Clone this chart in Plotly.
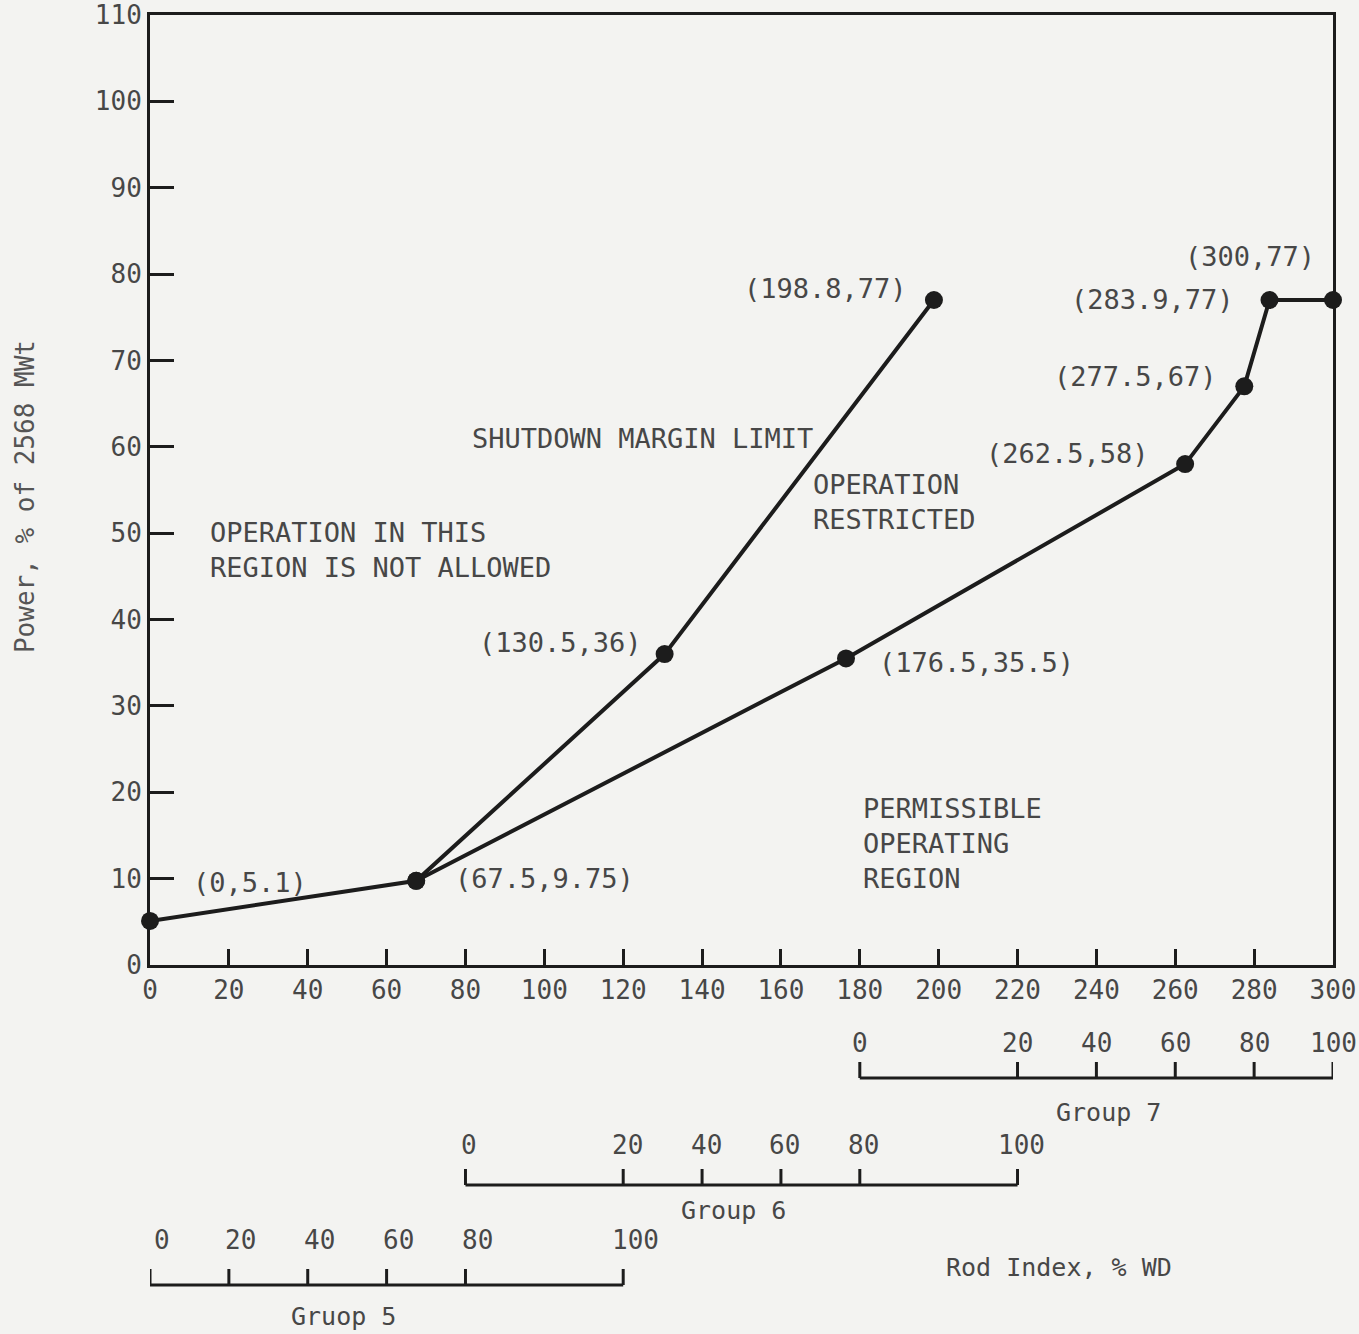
import plotly.graph_objects as go

# ---- data ----
upper_x = [0, 67.5, 130.5, 198.8]
upper_y = [5.1, 9.75, 36, 77]
lower_x = [67.5, 176.5, 262.5, 277.5, 283.9, 300]
lower_y = [9.75, 35.5, 58, 67, 77, 77]

point_labels = ["(0,5.1)", "(67.5,9.75)", "(130.5,36)", "(198.8,77)",
                "(176.5,35.5)", "(262.5,58)", "(277.5,67)", "(283.9,77)", "(300,77)"]
label_x = [10.5, 76.8, 125.4, 192.6, 184.4, 253.9, 271.1, 275.4, 295.9]
label_y = [9.6, 10.0, 37.3, 78.3, 35.0, 59.2, 68.1, 77.1, 82.0]
label_anchor = ["left", "left", "right", "right", "left", "right", "right", "right", "right"]

x_ticks = list(range(0, 301, 20))
y_ticks = list(range(0, 111, 10))

# Group scales: group % withdrawn -> rod index position
group_pct = [0, 20, 40, 60, 80, 100]
group7_index = [180, 220, 240, 260, 280, 300]
group6_index = [80, 120, 140, 160, 180, 220]
group5_index = [0, 20, 40, 60, 80, 120]
group_names = ["Group 7", "Group 6", "Gruop 5"]
group_name_x = [243, 148, 49]

FONT = "DejaVu Sans Mono"
TXT = "#474747"
LINE = "#1c1c1c"

fig = go.Figure()
fig.add_trace(go.Scatter(x=upper_x, y=upper_y, mode="lines+markers",
                         line=dict(color=LINE, width=4),
                         marker=dict(size=18, color=LINE), cliponaxis=False,
                         showlegend=False))
fig.add_trace(go.Scatter(x=lower_x, y=lower_y, mode="lines+markers",
                         line=dict(color=LINE, width=4),
                         marker=dict(size=18, color=LINE), cliponaxis=False,
                         showlegend=False))

annotations = []
for t, x, y, a in zip(point_labels, label_x, label_y, label_anchor):
    annotations.append(dict(x=x, y=y, text=t, xref="x", yref="y", xanchor=a,
                            yanchor="middle", showarrow=False,
                            font=dict(family=FONT, size=27, color=TXT)))

region_texts = [
    ("SHUTDOWN MARGIN LIMIT", 81.1, 61.0),
    ("OPERATION<br>RESTRICTED", 167.7, 53.6),
    ("OPERATION IN THIS<br>REGION IS NOT ALLOWED", 14.7, 48.0),
    ("PERMISSIBLE<br>OPERATING<br>REGION", 180.4, 14.1),
]
for t, x, y in region_texts:
    annotations.append(dict(x=x, y=y, text=t, xref="x", yref="y", xanchor="left",
                            yanchor="middle", align="left", showarrow=False,
                            font=dict(family=FONT, size=27, color=TXT)))

shapes = []
# group scales below the plot (paper y coordinates)
PH = 950.0
base_y = [-(1078 - 965) / PH, -(1185 - 965) / PH, -(1285 - 965) / PH]
lab_y = [-(1043 - 965) / PH, -(1145 - 965) / PH, -(1240 - 965) / PH]
name_y = [-(1112 - 965) / PH, -(1210 - 965) / PH, -(1316 - 965) / PH]
lab_dx = [0, 1, 3]
tick_h = 16 / PH
for idx_list, by, ly, ny, nm, nx, dx in zip([group7_index, group6_index, group5_index],
                                             base_y, lab_y, name_y, group_names,
                                             group_name_x, lab_dx):
    shapes.append(dict(type="line", xref="x", yref="paper",
                       x0=idx_list[0], x1=idx_list[-1], y0=by, y1=by,
                       line=dict(color=LINE, width=3)))
    for p, xv in zip(group_pct, idx_list):
        shapes.append(dict(type="line", xref="x", yref="paper",
                           x0=xv, x1=xv, y0=by, y1=by + tick_h,
                           line=dict(color=LINE, width=3)))
        annotations.append(dict(x=xv + dx, y=ly, text=str(p), xref="x", yref="paper",
                                xanchor="center", yanchor="middle", showarrow=False,
                                font=dict(family=FONT, size=26, color=TXT)))
    annotations.append(dict(x=nx, y=ny, text=nm, xref="x", yref="paper",
                            xanchor="center", yanchor="middle", showarrow=False,
                            font=dict(family=FONT, size=25, color=TXT)))

annotations.append(dict(x=230.6, y=-(1267 - 965) / PH, text="Rod Index, % WD", xref="x",
                        yref="paper", xanchor="center", yanchor="middle", showarrow=False,
                        font=dict(family=FONT, size=25, color=TXT)))
annotations.append(dict(x=-0.1056, y=(965 - 497) / PH, text="Power, % of 2568 MWt",
                        xref="paper", yref="paper", textangle=-90, xanchor="center",
                        yanchor="middle", showarrow=False,
                        font=dict(family=FONT, size=26, color="#555555")))

fig.update_layout(
    width=1359, height=1334,
    margin=dict(l=150, r=26, t=15, b=369),
    paper_bgcolor="#f3f3f1", plot_bgcolor="#f3f3f1",
    showlegend=False,
    annotations=annotations, shapes=shapes,
    xaxis=dict(range=[0, 300], tickvals=x_ticks, ticks="inside", ticklen=16,
               tickwidth=3, tickcolor=LINE, showline=True, linewidth=3,
               linecolor=LINE, mirror=True, showgrid=False, zeroline=False,
               automargin=False, ticklabeloverflow="allow",
               tickfont=dict(family=FONT, size=26, color=TXT)),
    yaxis=dict(range=[0, 110], tickvals=y_ticks, ticks="inside", ticklen=24,
               tickwidth=3, tickcolor=LINE, showline=True, linewidth=3,
               linecolor=LINE, mirror=True, showgrid=False, zeroline=False,
               automargin=False, ticklabeloverflow="allow",
               tickfont=dict(family=FONT, size=26, color=TXT)),
)

fig.write_html("out.html")
